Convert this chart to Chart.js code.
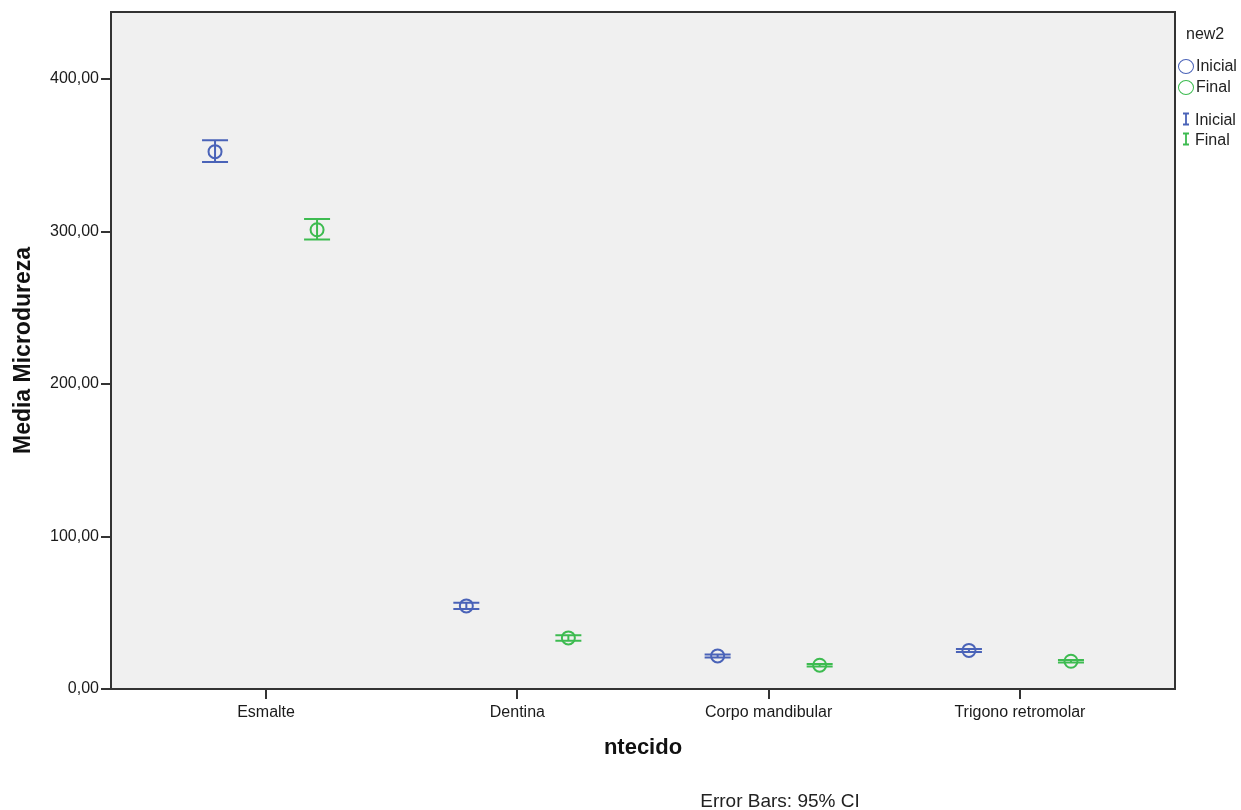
<!DOCTYPE html>
<html>
<head>
<meta charset="utf-8">
<script src="https://cdn.jsdelivr.net/npm/chart.js@4/dist/chart.umd.min.js"></script>
<style>
  body { margin: 0; background: #fff; font-family: "Liberation Sans", Arial, sans-serif; }
  #wrap { position: relative; width: 1241px; height: 810px; }
  .legend { position: absolute; left: 1178px; top: 24px; font-size: 16px; color: #222; }
  .legend .row { position: absolute; left: 0; white-space: nowrap; height: 20px; line-height: 20px; }
  .legend .ring { display: inline-block; width: 16px; height: 15px; border-radius: 50%; border: 1.8px solid; vertical-align: -3px; margin-right: 2px; box-sizing: border-box; }
  .caption { position: absolute; left: 690px; top: 790px; width: 180px; text-align: center; font-size: 19px; color: #222; }
</style>
</head>
<body>
<div id="wrap">
  <canvas id="chart" width="1241" height="810"></canvas>
  <div class="legend">
    <div class="row" style="left:8px; top:0px;">new2</div>
    <div class="row" style="top:32px;"><span class="ring" style="border-color:#4a63b8"></span>Inicial</div>
    <div class="row" style="top:53px;"><span class="ring" style="border-color:#3dbb50"></span>Final</div>
    <div class="row" style="top:86px;"><svg width="17" height="14" style="vertical-align:-1px"><path d="M5 1.5H11M8 1.5V12.5M5 12.5H11" stroke="#4a63b8" stroke-width="1.8" fill="none"/></svg>Inicial</div>
    <div class="row" style="top:106px;"><svg width="17" height="14" style="vertical-align:-1px"><path d="M5 1.5H11M8 1.5V12.5M5 12.5H11" stroke="#3dbb50" stroke-width="1.8" fill="none"/></svg>Final</div>
  </div>
  <div class="caption">Error Bars: 95% CI</div>
</div>
<script>
// categorias e medias (IC 95%)
const categories = ['Esmalte', 'Dentina', 'Corpo mandibular', 'Trigono retromolar'];
const inicialMean = [352.4, 54.5, 21.7, 25.3];
const inicialLow  = [345.6, 52.5, 20.7, 24.3];
const inicialHigh = [359.9, 56.5, 22.7, 26.3];
const finalMean = [301.2, 33.5, 15.6, 18.2];
const finalLow  = [294.8, 31.7, 14.8, 17.4];
const finalHigh = [308.2, 35.3, 16.4, 19.0];
const yTicks = [0, 100, 200, 300, 400];
const yMax = 444;

const blue = '#4a63b8';
const green = '#3dbb50';
const shift = 0.203; // deslocamento de cada grupo

function points(means, dx) {
  return means.map((v, i) => ({ x: i + 1 + dx, y: v }));
}

// fundo cinza da area do grafico + moldura
const frame = {
  id: 'frame',
  beforeDraw(chart) {
    const a = chart.chartArea, c = chart.ctx;
    c.save();
    c.fillStyle = '#f0f0f0';
    c.fillRect(a.left, a.top, a.right - a.left, a.bottom - a.top);
    c.restore();
  },
  afterDraw(chart) {
    const a = chart.chartArea, c = chart.ctx;
    c.save();
    c.strokeStyle = '#333';
    c.lineWidth = 2;
    c.strokeRect(a.left, a.top, a.right - a.left, a.bottom - a.top);
    c.restore();
  }
};

// barras de erro
const errorBars = {
  id: 'errorBars',
  afterDatasetsDraw(chart) {
    const c = chart.ctx, ys = chart.scales.y;
    chart.data.datasets.forEach((ds, di) => {
      const meta = chart.getDatasetMeta(di);
      meta.data.forEach((pt, i) => {
        const top = ys.getPixelForValue(ds.hi[i]);
        const bot = ys.getPixelForValue(ds.lo[i]);
        c.save();
        c.strokeStyle = ds.borderColor;
        c.lineWidth = 2;
        c.beginPath();
        c.moveTo(pt.x, top); c.lineTo(pt.x, bot);
        c.moveTo(pt.x - 13, top); c.lineTo(pt.x + 13, top);
        c.moveTo(pt.x - 13, bot); c.lineTo(pt.x + 13, bot);
        c.stroke();
        c.restore();
      });
    });
  }
};

new Chart(document.getElementById('chart'), {
  type: 'scatter',
  data: {
    datasets: [
      { label: 'Inicial', data: points(inicialMean, -shift), lo: inicialLow, hi: inicialHigh,
        borderColor: blue, backgroundColor: 'rgba(0,0,0,0)', pointRadius: 6.5, pointBorderWidth: 2 },
      { label: 'Final', data: points(finalMean, shift), lo: finalLow, hi: finalHigh,
        borderColor: green, backgroundColor: 'rgba(0,0,0,0)', pointRadius: 6.5, pointBorderWidth: 2 }
    ]
  },
  options: {
    responsive: false,
    animation: false,
    layout: { padding: { top: 12, right: 66, left: 0, bottom: 0 } },
    plugins: { legend: { display: false }, tooltip: { enabled: false } },
    scales: {
      x: {
        type: 'linear', min: 0.383, max: 4.617,
        afterBuildTicks: s => { s.ticks = categories.map((c, i) => ({ value: i + 1 })); },
        afterFit: s => { s.height = 121; },
        grid: { drawOnChartArea: false, drawTicks: true, tickLength: 10, color: '#333', lineWidth: 2 },
        border: { display: false },
        ticks: { callback: v => categories[v - 1], color: '#1a1a1a', padding: 4, maxRotation: 0,
                 font: { family: '"Liberation Sans", Arial', size: 16 } },
        title: { display: true, text: 'ntecido', color: '#111', padding: { top: 0, bottom: 49 },
                 font: { family: '"Liberation Sans", Arial', size: 22, weight: 'bold' } }
      },
      y: {
        min: 0, max: yMax,
        afterBuildTicks: s => { s.ticks = yTicks.map(v => ({ value: v })); },
        afterFit: s => { s.width = 111; },
        grid: { drawOnChartArea: false, drawTicks: true, tickLength: 10, color: '#333', lineWidth: 2 },
        border: { display: false },
        ticks: { callback: v => v.toFixed(2).replace('.', ','), color: '#1a1a1a', padding: 2,
                 font: { family: '"Liberation Sans", Arial', size: 16 } },
        title: { display: true, text: 'Media Microdureza', color: '#111', padding: { top: 10, bottom: 0 },
                 font: { family: '"Liberation Sans", Arial', size: 23, weight: 'bold' } }
      }
    }
  },
  plugins: [frame, errorBars]
});
</script>
</body>
</html>
